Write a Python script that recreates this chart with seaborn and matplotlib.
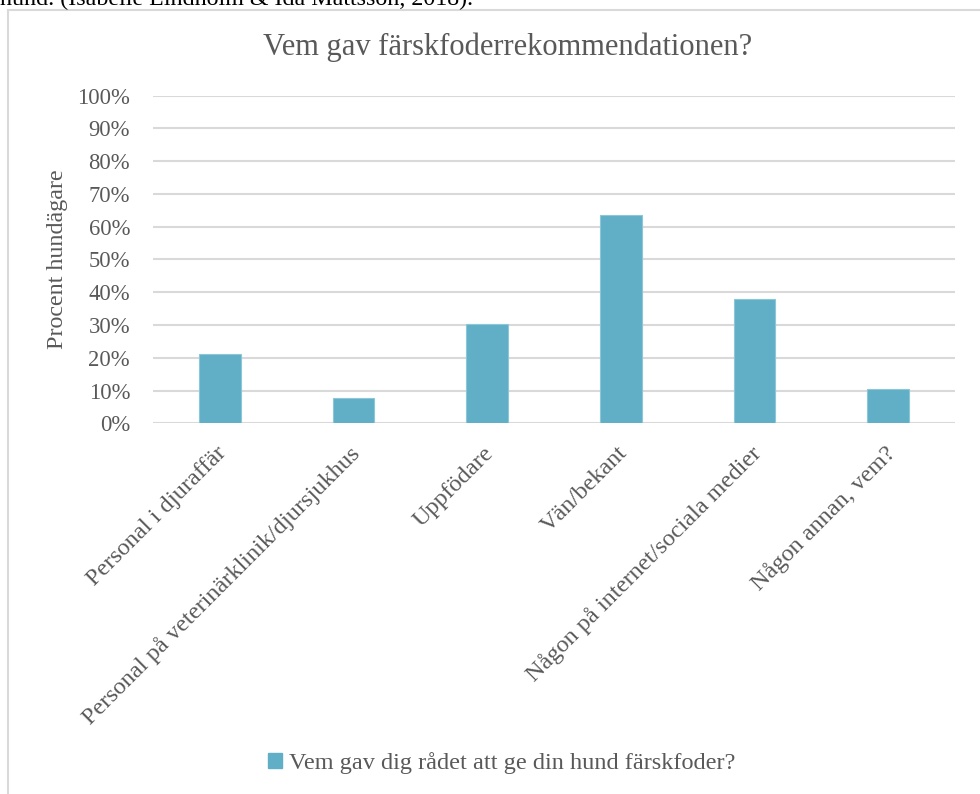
import matplotlib
matplotlib.use("Agg")
import matplotlib.pyplot as plt
import matplotlib.transforms as mtransforms
import seaborn as sns
import pandas as pd
from matplotlib.patches import Rectangle, Patch
from matplotlib.ticker import PercentFormatter

# Data
categories = [
    "Personal i djuraffär",
    "Personal på veterinärklinik/djursjukhus",
    "Uppfödare",
    "Vän/bekant",
    "Någon på internet/sociala medier",
    "Någon annan, vem?",
]
share = [0.212, 0.078, 0.303, 0.636, 0.379, 0.106]
series_name = "Vem gav dig rådet att ge din hund färskfoder?"
chart_title = "Vem gav färskfoderrekommendationen?"
y_label = "Procent hundägare"
caption = "hund. (Isabelle Lindholm & Ida Mattsson, 2018)."

TEXT = "#595959"
BAR = "#60AFC7"
GRID = "#D9D9D9"

sns.set_theme(style="white")
plt.rcParams["font.family"] = ["Liberation Serif", "DejaVu Serif"]

df = pd.DataFrame({"kategori": categories, "andel": share})

fig = plt.figure(figsize=(9.8, 7.94), dpi=100)
ax = fig.add_axes([153 / 980, 1 - 423.3 / 794, (955 - 153) / 980, (423.3 - 95.6) / 794])

sns.barplot(data=df, x="kategori", y="andel", color=BAR, saturation=1,
            width=0.31, edgecolor="#8CC6D7", linewidth=0.8, ax=ax, zorder=3)

ax.set_ylim(0, 1)
ax.set_yticks([i / 10 for i in range(11)])
ax.yaxis.set_major_formatter(PercentFormatter(1.0, decimals=0))
ax.grid(axis="y", color=GRID, linewidth=1.5, zorder=0)
ax.set_axisbelow(True)
for s in ax.spines.values():
    s.set_visible(False)

ax.tick_params(axis="y", length=0, pad=16.5, labelsize=16.3, labelcolor=TEXT)
ax.tick_params(axis="x", length=0, pad=14, labelsize=17.5, labelcolor=TEXT)
ax.set_xticks(range(len(categories)))
ax.set_xticklabels(categories, rotation=45, ha="right", rotation_mode="anchor")
# nudge rotated labels a little to the left, like the original
shift = mtransforms.ScaledTranslation(-4 / 100, 0, fig.dpi_scale_trans)
for lbl in ax.get_xticklabels():
    lbl.set_transform(lbl.get_transform() + shift)
ax.set_xlabel("")
ax.set_ylabel("")

fig.text(58 / 980, 1 - 259.5 / 794, y_label, rotation=90, ha="center", va="center",
         fontsize=17.3, color=TEXT)

fig.text(508 / 980, 1 - 47 / 794, chart_title, ha="center", va="center",
         fontsize=22, color=TEXT)

handle = Patch(facecolor=BAR, edgecolor=BAR)
fig.legend([handle], [series_name], loc="center", bbox_to_anchor=(502 / 980, 1 - 763 / 794),
           frameon=False, fontsize=17.5, labelcolor=TEXT, handlelength=0.55, handleheight=0.55,
           handletextpad=0.3)

fig.text(0.0, 1 - 5 / 794, caption, ha="left", va="baseline", fontsize=17.3, color="black")

fig.add_artist(Rectangle((8 / 980, -0.1), 1.2, 1 - 10 / 794 + 0.1, fill=False,
                         edgecolor=GRID, linewidth=1.5, transform=fig.transFigure))

fig.savefig("out.png", dpi=100, facecolor="white")
